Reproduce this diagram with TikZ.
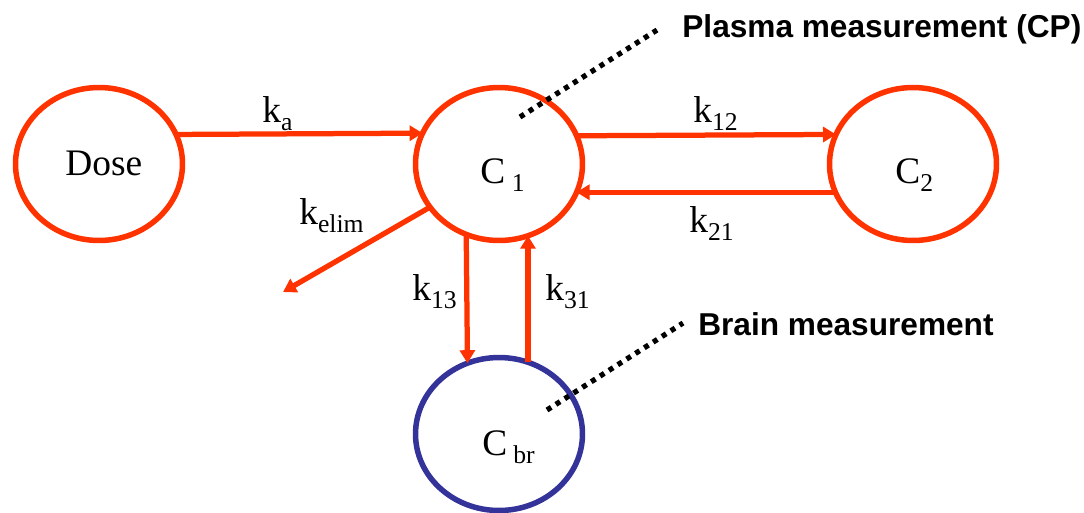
\documentclass[tikz,border=0pt]{standalone}
\usepackage{fontspec}
\setmainfont{Liberation Serif}
\newfontfamily\arialfont{Liberation Sans}
\usetikzlibrary{shapes.geometric,arrows.meta}
\definecolor{pkred}{HTML}{FF3300}
\definecolor{pkblue}{HTML}{333399}
\newcommand\mysub[1]{\raisebox{-0.16cm}{\fontsize{14.6}{14.6}\selectfont #1}}
\begin{document}
\begin{tikzpicture}[x=0.02cm,y=-0.02cm,
  comp/.style={ellipse,draw=pkred,line width=0.11cm,minimum width=3.34cm,minimum height=3.06cm,inner sep=0pt,outer sep=0pt},
  brain/.style={comp,draw=pkblue},
  arr/.style={draw=pkred,line width=0.105cm,-{Triangle[length=0.26cm,width=0.3cm]}},
  lab/.style={anchor=base west,inner sep=0pt,font=\fontsize{21.3}{21.3}\selectfont},
  note/.style={anchor=base west,inner sep=0pt,font=\arialfont\bfseries\fontsize{18}{18}\selectfont},
  dotline/.style={line width=0.105cm,dash pattern=on 0.1cm off 0.11cm}]
\useasboundingbox (0,0) rectangle (1084,512);
% compartments
\node[comp] (dose) at (99,164) {};
\node[comp] (c1) at (499,164) {};
\node[comp] (c2) at (913,164) {};
\node[brain] (cbr) at (499,434) {};
% texts inside
\node[lab] (tdose) at (65,175) {Dose};
\node[lab] (tc1) at (480,183) {C\hspace{0.13cm}\mysub{1}};
\node[lab] (tc2) at (895,183) {C\mysub{2}};
\node[lab] (tcbr) at (482,455) {C\hspace{0.12cm}\mysub{br}};
% arrows
\draw[arr] (dose.21.3) -- (c1.158.7);
\draw[arr] (c1.20.6) -- (c2.159.4);
\draw[arr] (c2.200.3) -- (c1.-20.3);
\draw[arr] (c1.245.65) -- (cbr.114.35);
\draw[arr] (cbr.68.4) -- (c1.-68.4);
\coordinate (elim) at (283,292);
\draw[arr] (c1.212.3) -- (elim);
% rate labels
\node[lab] (lka) at (262,122) {k\mysub{a}};
\node[lab] (lk12) at (693,122) {k\mysub{12}};
\node[lab] (lk21) at (689,232) {k\mysub{21}};
\node[lab] (lkel) at (299,224) {k\mysub{elim}};
\node[lab] (lk13) at (412,300) {k\mysub{13}};
\node[lab] (lk31) at (545,300) {k\mysub{31}};
% measurement notes
\node[note] (plasma) at (682,37) {Plasma measurement (CP)};
\node[note] (brainm) at (698,335) {Brain measurement};
\coordinate (pin) at (520,117);
\coordinate (bin) at (547,410);
\draw[dotline] (pin) -- ([xshift=-0.5cm,yshift=0.14cm]plasma.base west);
\draw[dotline] (bin) -- ([xshift=-0.3cm,yshift=0.24cm]brainm.base west);
\end{tikzpicture}
\end{document}
